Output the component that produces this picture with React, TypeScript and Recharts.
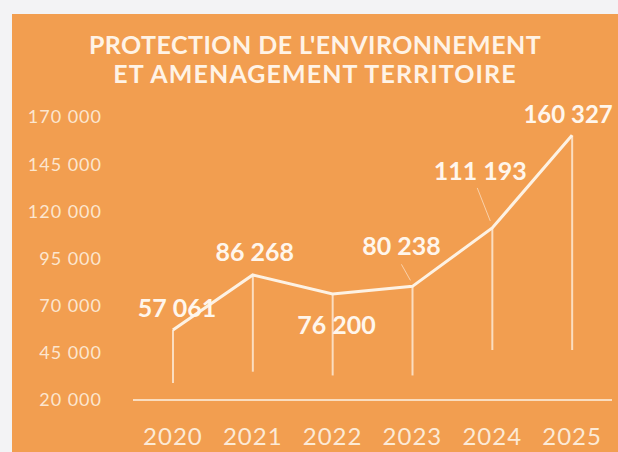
import React from 'react';
import { ComposedChart, Line, Bar, XAxis, YAxis, LabelList } from 'recharts';

const years = ['2020', '2021', '2022', '2023', '2024', '2025'];
const values = [57061, 86268, 76200, 80238, 111193, 160327];
const dropFloors = [29000, 35000, 33000, 33000, 46500, 46500];
const yTicks = [20000, 45000, 70000, 95000, 120000, 145000, 170000];
const titleLines = ["PROTECTION DE L'ENVIRONNEMENT", 'ET AMENAGEMENT TERRITOIRE'];

const data = years.map((year, i) => ({
  year,
  value: values[i],
  drop: [dropFloors[i], values[i]],
}));

const fmt = (n: number) => String(n).replace(/\B(?=(\d{3})+(?!\d))/g, ' ');

// label placement relative to each point
const LABEL_POS: { dx: number; dy: number; leader?: [number, number, number, number] }[] = [
  { dx: 4, dy: -23 },
  { dx: 2, dy: -24 },
  { dx: 4, dy: 30 },
  { dx: -11, dy: -41, leader: [-11, -22, -2, -6] },
  { dx: -12, dy: -58, leader: [-15, -40, -2, -7] },
  { dx: -4, dy: -22 },
];

const CREAM = '#FDF2E4';
const ORANGE = '#F29E50';

const ValueLabel = (props: any) => {
  const { x, y, value, index } = props;
  const p = LABEL_POS[index] || { dx: 0, dy: -20 };
  return (
    <g>
      {p.leader && (
        <line
          x1={x + p.leader[0]}
          y1={y + p.leader[1]}
          x2={x + p.leader[2]}
          y2={y + p.leader[3]}
          stroke={CREAM}
          strokeOpacity={0.6}
          strokeWidth={1}
        />
      )}
      <text
        x={x + p.dx}
        y={y + p.dy}
        textAnchor="middle"
        dominantBaseline="central"
        fill="#FFF6EC"
        fontFamily="Lato"
        fontWeight={700}
        fontSize={index === 5 ? 24 : 25}
      >
        {fmt(value)}
      </text>
    </g>
  );
};

export default function App() {
  return (
    <div style={{ position: 'absolute', left: 0, top: 0, width: 618, height: 452, background: '#F3F3F5', overflow: 'hidden' }}>
      <div style={{ position: 'absolute', left: 12, top: 14, right: 0, bottom: 0, background: ORANGE }} />
      <div
        style={{
          position: 'absolute',
          left: 12,
          top: 30,
          width: 606,
          textAlign: 'center',
          fontFamily: 'Lato',
          fontWeight: 700,
          fontSize: 25,
          lineHeight: '29px',
          color: '#FFF3E6',
        }}
      >
        <div style={{ letterSpacing: 0.45 }}>{titleLines[0]}</div>
        <div style={{ letterSpacing: 1.1 }}>{titleLines[1]}</div>
      </div>
      <div style={{ position: 'absolute', left: 0, top: 0 }}>
        <ComposedChart width={618} height={452} data={data} margin={{ top: 117, right: 6, bottom: 0, left: 0 }}>
          <XAxis
            dataKey="year"
            height={52}
            tickSize={0}
            tickMargin={28}
            axisLine={{ stroke: CREAM, strokeWidth: 1.5 }}
            tick={{ fill: '#FCEAD6', fontFamily: 'Lato', fontSize: 24, letterSpacing: 1 }}
          />
          <YAxis
            width={133}
            domain={[20000, 170000]}
            ticks={yTicks}
            tickFormatter={fmt}
            tickSize={0}
            tickMargin={31}
            axisLine={false}
            tick={{ fill: '#FCE6CF', fontFamily: 'Lato', fontSize: 18, letterSpacing: 1 }}
          />
          <Bar dataKey="drop" barSize={2} fill={CREAM} fillOpacity={0.75} isAnimationActive={false} />
          <Line
            type="linear"
            dataKey="value"
            stroke={CREAM}
            strokeWidth={3}
            dot={false}
            activeDot={false}
            isAnimationActive={false}
          >
            <LabelList dataKey="value" content={ValueLabel} />
          </Line>
        </ComposedChart>
      </div>
    </div>
  );
}
